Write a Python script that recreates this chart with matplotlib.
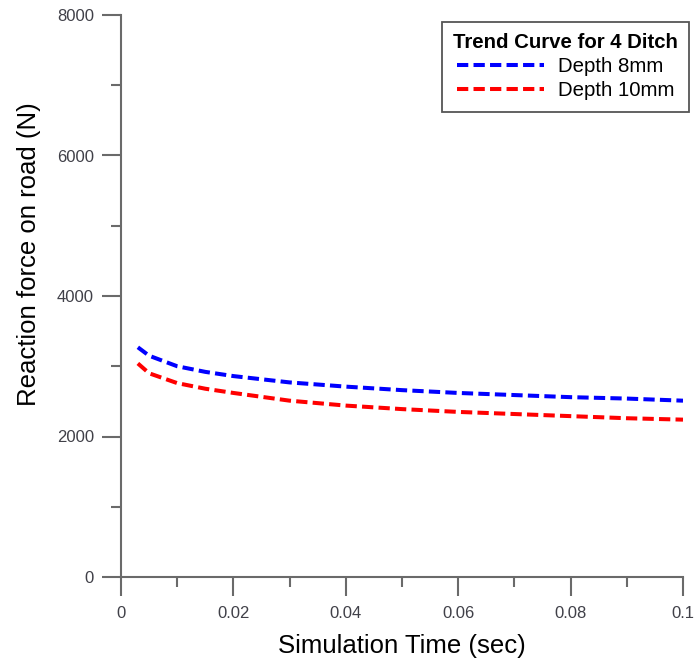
import numpy as np
import matplotlib
matplotlib.use("Agg")
import matplotlib.pyplot as plt
from matplotlib.ticker import MultipleLocator

plt.rcParams['font.family'] = ['Liberation Sans', 'DejaVu Sans']

# simulation time (sec)
time = [0.003, 0.005, 0.01, 0.015, 0.02, 0.03, 0.04, 0.05, 0.06, 0.07, 0.08, 0.09, 0.1]
# reaction force (N)
depth_8mm = [3270, 3150, 3000, 2920, 2860, 2770, 2710, 2660, 2620, 2590, 2560, 2540, 2510]
depth_10mm = [3040, 2900, 2760, 2680, 2620, 2510, 2440, 2390, 2350, 2320, 2290, 2260, 2240]

fig = plt.figure(figsize=(6.96, 6.68), dpi=100)
ax = fig.add_axes([121/696, 1 - 577/668, 562/696, 562/668])

ax.plot(time, depth_8mm, color='blue', lw=2.9, dashes=(2.8, 1.3), label='Depth 8mm')
ax.plot(time, depth_10mm, color='red', lw=2.9, dashes=(2.8, 1.3), label='Depth 10mm')

ax.set_xlim(0, 0.1)
ax.set_ylim(0, 8000)
ax.xaxis.set_minor_locator(MultipleLocator(0.01))
ax.yaxis.set_major_locator(MultipleLocator(2000))
ax.yaxis.set_minor_locator(MultipleLocator(1000))
ax.set_xticks([0, 0.02, 0.04, 0.06, 0.08, 0.1], ['0', '0.02', '0.04', '0.06', '0.08', '0.1'])

for s in ['top', 'right']:
    ax.spines[s].set_visible(False)
for s in ['left', 'bottom']:
    ax.spines[s].set_color('#6a6a6a')
    ax.spines[s].set_linewidth(1.5)

ax.tick_params(which='major', direction='out', length=14, width=1.5, color='#6a6a6a',
               labelsize=12, labelcolor='#404048')
ax.tick_params(axis='x', which='major', pad=7)
ax.tick_params(axis='y', which='major', pad=5.5)
ax.tick_params(which='minor', direction='out', length=7, width=1.5, color='#6a6a6a')

ax.set_xlabel('Simulation Time (sec)', fontsize=18.5)
ax.set_ylabel('Reaction force on road (N)', fontsize=18.5)
ax.xaxis.set_label_coords(0.5, -0.101)
ax.yaxis.set_label_coords(-0.142, 0.575)

leg = ax.legend(title='Trend Curve for 4 Ditch', loc='upper right',
                bbox_to_anchor=(689/696, 1 - 22/668), bbox_transform=fig.transFigure,
                fontsize=14.7, title_fontproperties={'weight': 'bold', 'size': 14.7},
                fancybox=False, framealpha=1, edgecolor='#555555',
                handlelength=4.3, handletextpad=0.65, borderpad=0.55,
                labelspacing=0.25, borderaxespad=0)
leg.get_frame().set_linewidth(1.3)

fig.savefig('out.png', dpi=100)
